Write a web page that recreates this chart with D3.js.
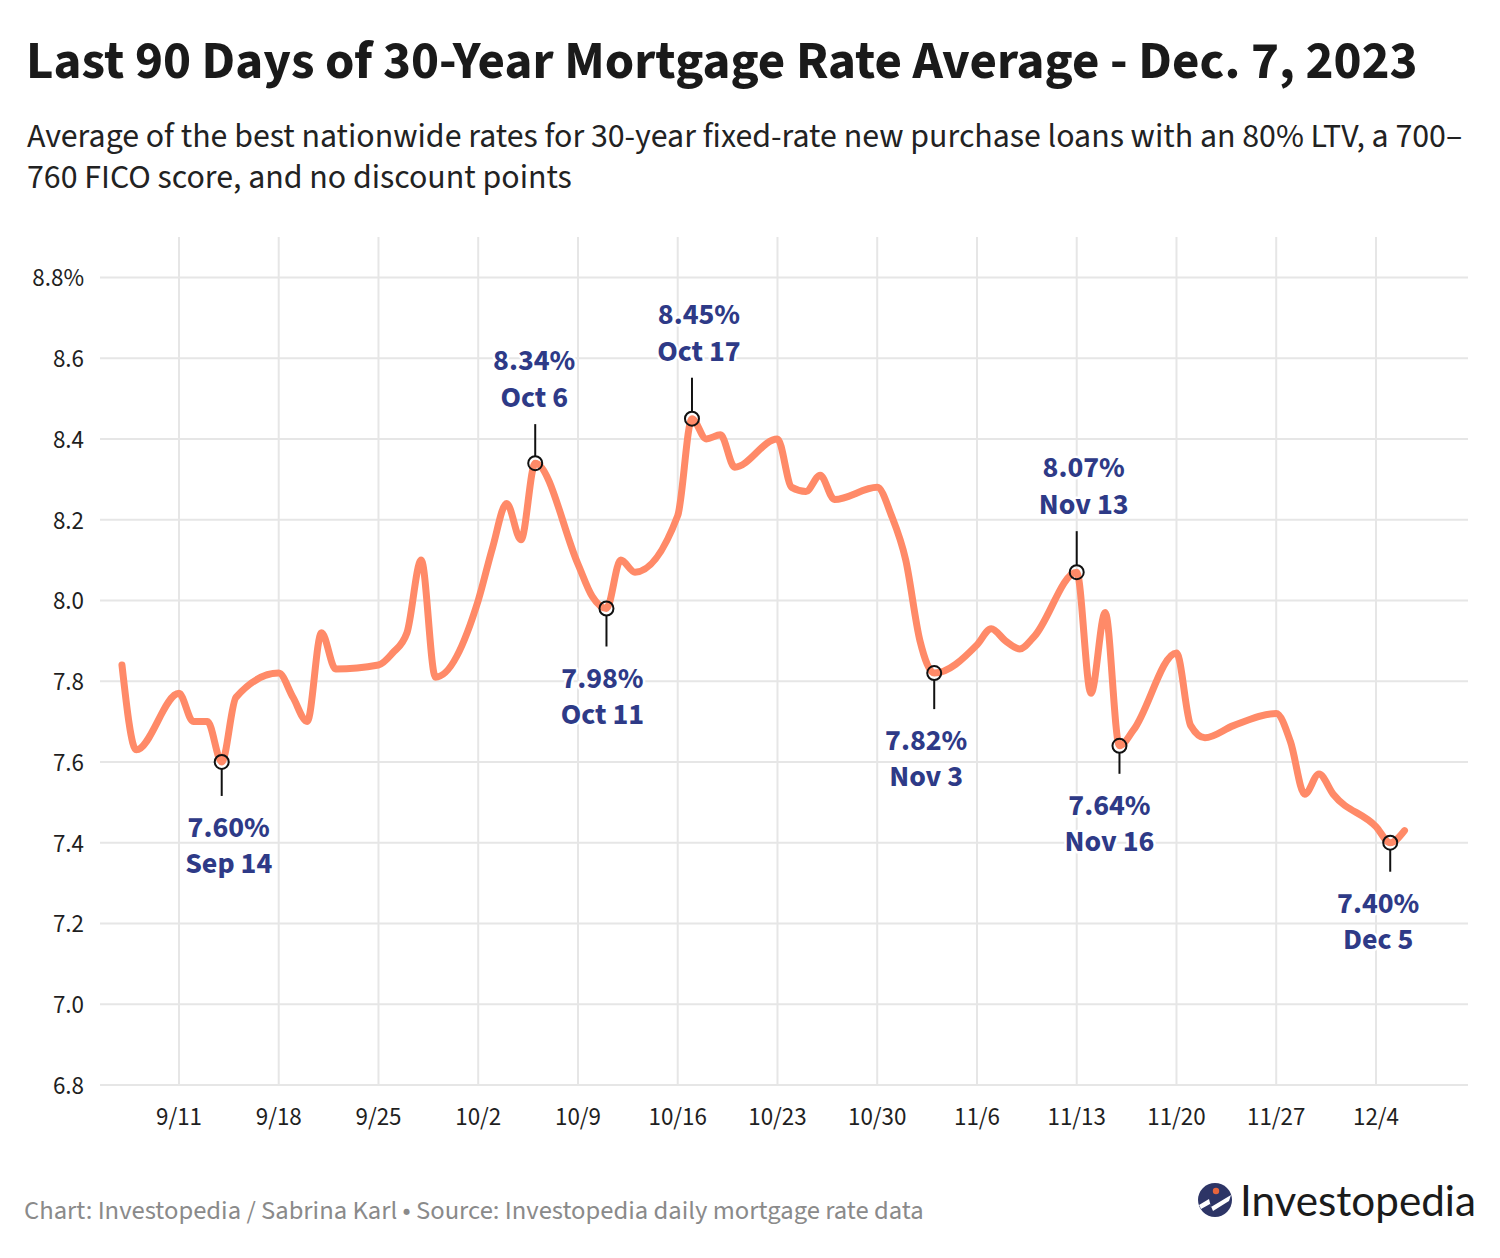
<!DOCTYPE html>
<html lang="en">
<head>
<meta charset="UTF-8">
<script src="https://d3js.org/d3.v7.min.js"></script>
<title>30-Year Mortgage Rate Average</title>
<style>
    body { margin: 0; background: #fff; }
    svg { font-family: "Source Sans Pro", "Source Sans 3", Lato, sans-serif; }
    .grid line { stroke: #e6e6e6; stroke-width: 2px; }
    .axis text { fill: #1f1f1f; font-size: 25px; }
    .anno text { fill: #2e3a87; font-weight: 700; font-size: 30px; text-anchor: middle;
                 stroke: #fff; stroke-width: 5px; paint-order: stroke; stroke-linejoin: round; }
</style>
</head>
<body>
<svg id="chart" width="1500" height="1258"></svg>
<script>
// business-day rates
const dates = [
    "2023-09-07","2023-09-08","2023-09-11","2023-09-12","2023-09-13","2023-09-14","2023-09-15",
    "2023-09-18","2023-09-19","2023-09-20","2023-09-21","2023-09-22",
    "2023-09-25","2023-09-26","2023-09-27","2023-09-28","2023-09-29",
    "2023-10-02","2023-10-03","2023-10-04","2023-10-05","2023-10-06",
    "2023-10-09","2023-10-10","2023-10-11","2023-10-12","2023-10-13",
    "2023-10-16","2023-10-17","2023-10-18","2023-10-19","2023-10-20",
    "2023-10-23","2023-10-24","2023-10-25","2023-10-26","2023-10-27",
    "2023-10-30","2023-10-31","2023-11-01","2023-11-02","2023-11-03",
    "2023-11-06","2023-11-07","2023-11-08","2023-11-09","2023-11-10",
    "2023-11-13","2023-11-14","2023-11-15","2023-11-16","2023-11-17",
    "2023-11-20","2023-11-21","2023-11-22","2023-11-24",
    "2023-11-27","2023-11-28","2023-11-29","2023-11-30","2023-12-01",
    "2023-12-04","2023-12-05","2023-12-06"
];
const rates = [
    7.84, 7.63, 7.77, 7.70, 7.70, 7.60, 7.76,
    7.82, 7.76, 7.70, 7.92, 7.83,
    7.84, 7.87, 7.92, 8.10, 7.81,
    8.00, 8.13, 8.24, 8.15, 8.34,
    8.09, 8.01, 7.98, 8.10, 8.07,
    8.21, 8.45, 8.40, 8.41, 8.33,
    8.40, 8.28, 8.27, 8.31, 8.25,
    8.28, 8.21, 8.10, 7.90, 7.82,
    7.89, 7.93, 7.90, 7.88, 7.91,
    8.07, 7.77, 7.97, 7.64, 7.68,
    7.87, 7.69, 7.66, 7.69,
    7.72, 7.65, 7.52, 7.57, 7.52,
    7.44, 7.40, 7.43
];
const yTicks = [6.8, 7.0, 7.2, 7.4, 7.6, 7.8, 8.0, 8.2, 8.4, 8.6, 8.8];
const xTickDates = ["2023-09-11","2023-09-18","2023-09-25","2023-10-02","2023-10-09","2023-10-16",
    "2023-10-23","2023-10-30","2023-11-06","2023-11-13","2023-11-20","2023-11-27","2023-12-04"];
const annoDates = ["2023-09-14","2023-10-06","2023-10-11","2023-10-17","2023-11-03","2023-11-13","2023-11-16","2023-12-05"];
const annoSide  = ["below","above","below","above","below","above","below","below"];
// hand placement of the labels
const annoDx  = [7, -1, -4, 7, -8, 7, -10, -12];
const annoLen = [27, 32, 31, 34, 29, 34, 21, 22];

const title = "Last 90 Days of 30-Year Mortgage Rate Average - Dec. 7, 2023";
const subtitle = ["Average of the best nationwide rates for 30-year fixed-rate new purchase loans with an 80% LTV, a 700–",
    "760 FICO score, and no discount points"];
const footer = "Chart: Investopedia / Sabrina Karl • Source: Investopedia daily mortgage rate data";

const parse = d3.timeParse("%Y-%m-%d");
const data = dates.map((d, i) => ({date: parse(d), rate: rates[i]}));

const svg = d3.select("#chart");
const plotL = 100, plotR = 1468, plotT = 237, plotB = 1085;

const x = d3.scaleTime()
    .domain([new Date(2023, 8, 5, 11), new Date(2023, 11, 10, 11)])
    .range([plotL, plotR]);
const y = d3.scaleLinear().domain([6.8, 8.9]).range([plotB, plotT]);

// squeeze a text to a target width (fallback fonts differ in width)
function fit(sel, w) {
    const cur = parseFloat(sel.style("font-size"));
    const len = sel.node().getComputedTextLength();
    sel.style("font-size", (cur * w / len) + "px");
}

svg.append("text").attr("x", 26).attr("y", 78)
    .style("font-size", "50px").style("font-weight", 700).style("fill", "#1a1a1a")
    .text(title).call(fit, 1392);

const sub = svg.append("g").style("font-size", "30px").style("fill", "#222");
sub.selectAll("text").data(subtitle).enter().append("text")
    .attr("x", 27).attr("y", (d, i) => 147 + i * 41).text(d => d);
// size from the first line, both lines share it
{
    const len = sub.select("text").node().getComputedTextLength();
    sub.style("font-size", (30 * 1436 / len) + "px");
}

// grid
const grid = svg.append("g").attr("class", "grid");
grid.selectAll("line.h").data(yTicks).enter().append("line").attr("class", "h")
    .attr("x1", plotL).attr("x2", plotR).attr("y1", d => y(d)).attr("y2", d => y(d));
grid.selectAll("line.v").data(xTickDates.map(parse)).enter().append("line").attr("class", "v")
    .attr("x1", d => x(d)).attr("x2", d => x(d)).attr("y1", plotT).attr("y2", plotB);

// axis labels
const axis = svg.append("g").attr("class", "axis");
axis.selectAll("text.y").data(yTicks).enter().append("text").attr("class", "y")
    .attr("x", 84).attr("y", d => y(d) + 9).attr("text-anchor", "end")
    .text((d, i) => d3.format(".1f")(d) + (i == yTicks.length - 1 ? "%" : ""));
axis.selectAll("text.x").data(xTickDates.map(parse)).enter().append("text").attr("class", "x")
    .attr("x", d => x(d)).attr("y", 1125).attr("text-anchor", "middle")
    .text(d3.timeFormat("%-m/%-d"));

// line
const line = d3.line().x(d => x(d.date)).y(d => y(d.rate)).curve(d3.curveMonotoneX);
svg.append("path").datum(data)
    .attr("d", line).attr("fill", "none")
    .attr("stroke", "#ff8a68").attr("stroke-width", 7).attr("stroke-linejoin", "round").attr("stroke-linecap", "round");

// annotations
const fmtDate = d3.timeFormat("%b %-d");
const anno = svg.append("g").attr("class", "anno");
annoDates.forEach((ds, i) => {
    const p = data.find(d => +d.date == +parse(ds));
    const cx = x(p.date), cy = y(p.rate);
    const dir = annoSide[i] == "below" ? 1 : -1;
    const r = 7;
    const end = cy + dir * (r + annoLen[i]);
    anno.append("line").attr("x1", cx).attr("x2", cx).attr("y1", cy + dir * r).attr("y2", end)
        .attr("stroke", "#111").attr("stroke-width", 2);
    anno.append("circle").attr("cx", cx).attr("cy", cy).attr("r", r)
        .attr("fill", "none").attr("stroke", "#111").attr("stroke-width", 2);
    const tx = cx + annoDx[i];
    let yVal, yDate;
    if (dir == 1) { yVal = end + 41; yDate = yVal + 36; }
    else { yDate = end - 17; yVal = yDate - 37; }
    anno.append("text").attr("x", tx).attr("y", yVal).text(p.rate.toFixed(2) + "%");
    anno.append("text").attr("x", tx).attr("y", yDate).text(fmtDate(p.date));
});
anno.selectAll("circle").raise();

// footer
svg.append("text").attr("x", 24).attr("y", 1219)
    .style("font-size", "24px").style("fill", "#8a8a8a").text(footer).call(fit, 900);

// logo
const logo = svg.append("g");
logo.append("circle").attr("cx", 1215).attr("cy", 1200).attr("r", 17).attr("fill", "#2d3566");
logo.append("path").attr("d", "M1199,1205 L1209,1199 L1211,1207 L1231,1195 L1229,1201 L1213,1211 L1210,1204 L1201,1209 Z")
    .attr("fill", "#fff");
logo.append("circle").attr("cx", 1216).attr("cy", 1191).attr("r", 3.2).attr("fill", "#e8653c");
logo.append("text").attr("x", 1240).attr("y", 1216)
    .style("font-family", "Lato, sans-serif").style("font-size", "42px").style("fill", "#1b1b1b")
    .text("Investopedia").call(fit, 236);
</script>
</body>
</html>
